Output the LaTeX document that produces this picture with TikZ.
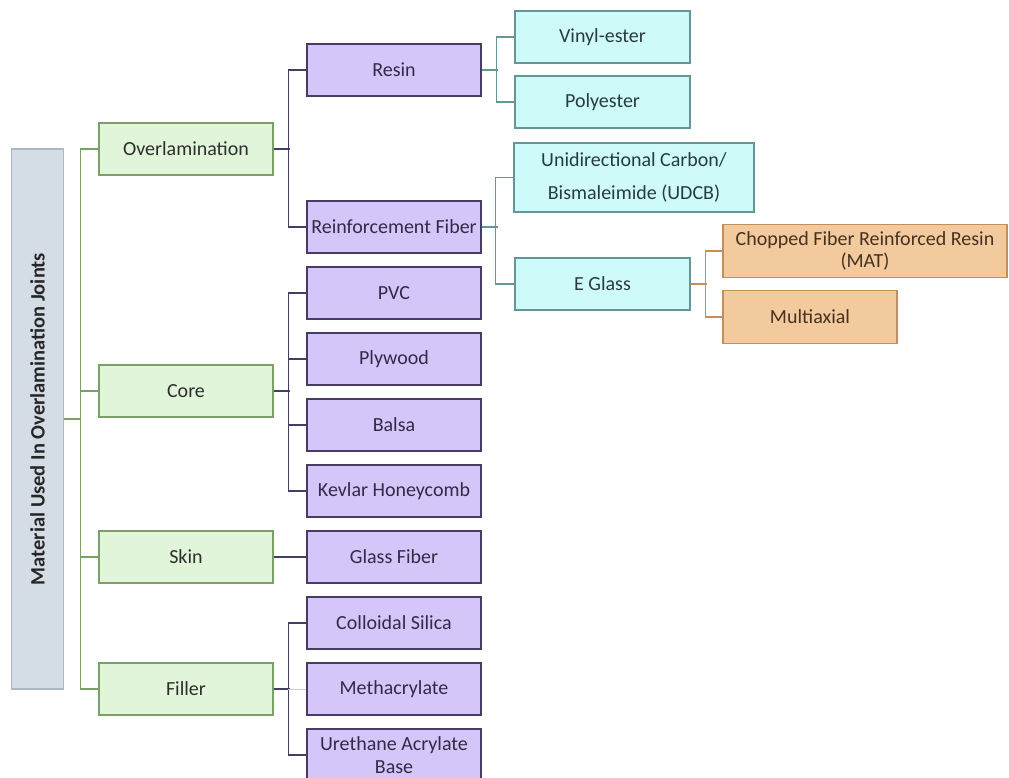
\documentclass[tikz,border=0pt]{standalone}
\usepackage{fontspec}
\setmainfont{Carlito}
\definecolor{grnfill}{RGB}{224,245,217}
\definecolor{grnline}{RGB}{122,160,102}
\definecolor{purfill}{RGB}{213,198,250}
\definecolor{purline}{RGB}{72,60,100}
\definecolor{cyafill}{RGB}{207,250,250}
\definecolor{cyaline}{RGB}{100,150,150}
\definecolor{orafill}{RGB}{243,201,158}
\definecolor{oraline}{RGB}{196,142,90}
\definecolor{rootfill}{RGB}{212,220,230}
\definecolor{rootline}{RGB}{172,182,196}
\tikzset{
  box/.style={draw, line width=1.4pt, rectangle, align=center, inner sep=1pt,
    minimum height=52pt, font=\fontsize{20}{26}\selectfont},
  gbox/.style={box, fill=grnfill, draw=grnline, text=black!82, minimum width=174pt},
  pbox/.style={box, fill=purfill, draw=purline, text=purline!70!black, minimum width=174pt},
  cbox/.style={box, fill=cyafill, draw=cyaline, text=cyaline!40!black, minimum width=175pt},
  obox/.style={box, fill=orafill, draw=oraline, text=oraline!35!black, minimum width=174pt},
  gcon/.style={draw=grnline, line width=1.4pt},
  pcon/.style={draw=purline, line width=1.4pt},
  ccon/.style={draw=cyaline, line width=1.4pt},
  ocon/.style={draw=oraline, line width=1.4pt},
}
\begin{document}
\begin{tikzpicture}[x=1pt,y=-1pt]
\useasboundingbox (0,0) rectangle (1009,778);
\begin{scope}
\clip (0,0) rectangle (1009,778);
% root
\node[draw=rootline, fill=rootfill, line width=1.4pt, minimum width=52pt, minimum height=540pt,
  inner sep=0pt] (root) at (37.5,419) {};
\node[rotate=90, font=\bfseries\fontsize{20.5}{24}\selectfont, text=black!85] (roottxt) at (root.center)
  {Material Used In Overlamination Joints};
% first level
\node[gbox] (over) at (186,149) {Overlamination};
\node[gbox] (core) at (186,391) {Core};
\node[gbox] (skin) at (186,557) {Skin};
\node[gbox] (fill) at (186,689) {Filler};
% second level
\node[pbox] (resin) at (394,70) {Resin};
\node[pbox] (reinf) at (394,227) {Reinforcement Fiber};
\node[pbox] (pvc) at (394,293) {PVC};
\node[pbox] (ply) at (394,359) {Plywood};
\node[pbox] (balsa) at (394,425) {Balsa};
\node[pbox] (kevlar) at (394,491) {Kevlar Honeycomb};
\node[pbox] (glass) at (394,557) {Glass Fiber};
\node[pbox] (silica) at (394,623) {Colloidal Silica};
\node[pbox] (metha) at (394,689) {Methacrylate};
\node[pbox, font=\fontsize{20}{23}\selectfont] (ureth) at (394,755) {Urethane Acrylate\\Base};
% third level
\node[cbox] (vinyl) at (602.5,37) {Vinyl-ester};
\node[cbox] (poly) at (602.5,102) {Polyester};
\node[cbox, minimum width=240pt, minimum height=69pt, font=\fontsize{20}{33}\selectfont] (udcb)
  at (634,177.5) {Unidirectional Carbon/\\Bismaleimide (UDCB)};
\node[cbox] (eglass) at (602.5,284) {E Glass};
% fourth level
\node[obox, minimum width=284pt, minimum height=53pt, font=\fontsize{20}{22}\selectfont] (mat)
  at (865,251) {Chopped Fiber Reinforced Resin\\(MAT)};
\node[obox, minimum height=53pt] (multi) at (810,317) {Multiaxial};

% trunk
\draw[gcon] (root.east) -- ++(17,0);
\draw[gcon] (over.west) -- ++(-18,0) |- (fill.west);
\draw[gcon] (core.west) -- ++(-18,0);
\draw[gcon] (skin.west) -- ++(-18,0);
% overlamination
\draw[pcon] (over.east) -- ++(16,0);
\draw[pcon] (resin.west) -- ++(-18,0) |- (reinf.west);
% core
\draw[pcon] (core.east) -- ++(16,0);
\draw[pcon] (pvc.west) -- ++(-18,0) |- (kevlar.west);
\draw[pcon] (ply.west) -- ++(-18,0);
\draw[pcon] (balsa.west) -- ++(-18,0);
% skin
\draw[pcon] (skin.east) -- (glass.west);
% filler
\draw[pcon] (fill.east) -- ++(16,0);
\draw[pcon] (silica.west) -- ++(-18,0) |- (ureth.west);
\draw[draw=purline!25, line width=1pt] (metha.west) -- ++(-18,0);
% resin
\draw[ccon] (resin.east) -- ++(16,0);
\draw[ccon] (vinyl.west) -- ++(-18,0) |- (poly.west);
% reinforcement fiber
\draw[ccon] (reinf.east) -- ++(16,0);
\draw[ccon] (udcb.west) -- ++(-18,0) |- (eglass.west);
% e glass
\draw[ocon] (eglass.east) -- ++(16,0);
\draw[ocon] (mat.west) -- ++(-17,0) |- (multi.west);
\end{scope}
\end{tikzpicture}
\end{document}
